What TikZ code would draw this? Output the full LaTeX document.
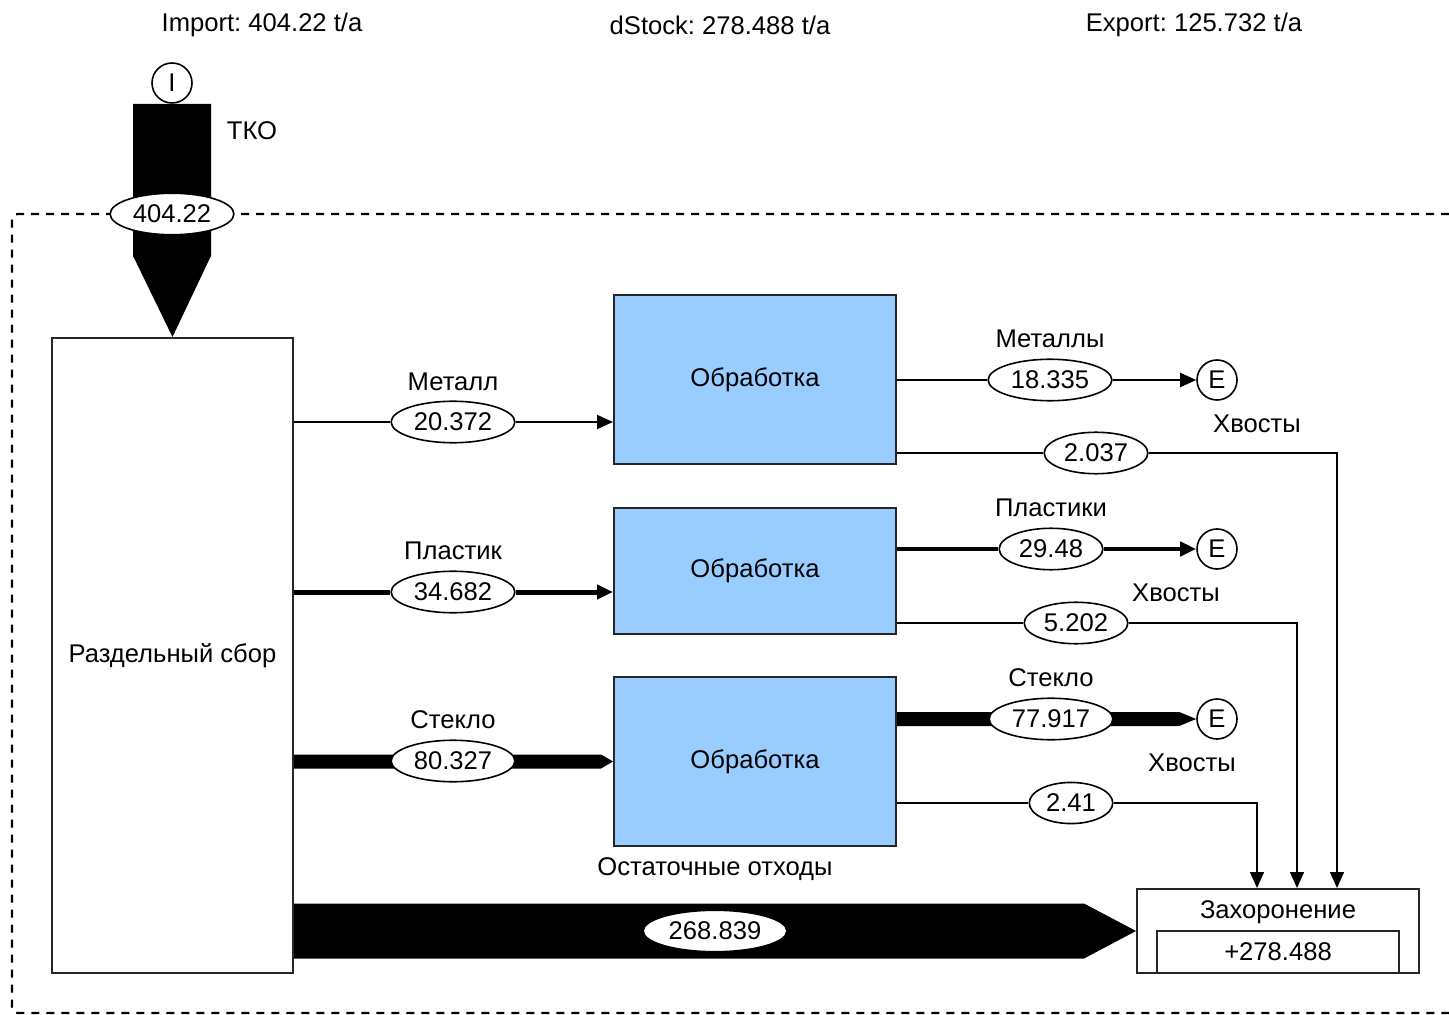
\documentclass[tikz,border=0pt]{standalone}
\usepackage{fontspec}
\setmainfont{Liberation Sans}
\usepackage{tikz}
\usetikzlibrary{positioning}
\usetikzlibrary{calc,arrows.meta,shapes.geometric}
\definecolor{procblue}{HTML}{99CCFF}
\frenchspacing

\tikzset{
  txt/.style={font=\fontsize{12.8}{15}\selectfont, inner sep=0pt},
  procbox/.style={draw=black!85, line width=1pt, fill=procblue, minimum width=141pt, inner sep=0pt, font=\fontsize{12.8}{15}\selectfont},
  plainbox/.style={draw=black!85, line width=1pt, fill=white, inner sep=0pt, font=\fontsize{12.8}{15}\selectfont},
  val/.style={ellipse, draw, fill=white, line width=0.8pt, inner xsep=2.3pt, inner ysep=2.8pt, font=\fontsize{12.8}{15}\selectfont},
  port/.style={circle, draw, fill=white, line width=0.8pt, minimum size=20pt, inner sep=0pt, font=\fontsize{12.8}{15}\selectfont},
  flowline/.style={line width=#1, -{Triangle[length=8pt,width=7pt]}},
  tail/.style={line width=0.8pt, -{Triangle[length=8pt,width=7pt]}},
  boundary/.style={dash pattern=on 4pt off 3.5pt, line width=1.1pt, rounded corners=3pt}
}

\begin{document}
\begin{tikzpicture}[x=0.5pt, y=-0.5pt]
  \useasboundingbox (0,0) rectangle (1449,1015);

  % system boundary
  \draw[boundary] (1449,214) -- (12,214) -- (12,1013) -- (1449,1013);

  % headline
  \node[txt] (imp) at (262,25) {Import: 404.22 t/a};
  \node[txt] (dst) at (720,25) {dStock: 278.488 t/a};
  \node[txt] (exp) at (1194,25) {Export: 125.732 t/a};

  % processes
  \node[port] (I) at (172,83) {I};
  \node[plainbox, minimum width=120.5pt, minimum height=317.5pt] (S) at (172.5,655.5) {Раздельный сбор};
  \node[procbox, minimum height=84.5pt] (B1) at (755,379.5) {Обработка};
  \node[procbox, minimum height=63pt] (B2) at (755,571) {Обработка};
  \node[procbox, minimum height=84.5pt] (B3) at (755,761.5) {Обработка};
  \node[plainbox, minimum width=141pt, minimum height=42pt] (L) at (1278,931) {};
  \node[txt] (Ltxt) at (1278,912) {Захоронение};
  \node[plainbox, minimum width=121pt, minimum height=21pt] (Lst) at (1278,952) {+278.488};

  \foreach \i/\y in {1/380, 2/549, 3/719} {
    \node[port] (E\i) at (1217,\y) {E};
  }

  % wide flows
  \fill ($(I.south)+(-39,0)$) -- ($(I.south)+(39,0)$) -- ($(I.south)+(39,152)$)
        -- (S.north) -- ($(I.south)+(-39,152)$) -- cycle;
  \fill ($(S.east|-B3.west)+(0,-7)$) -- ($(B3.west)+(-12,-7)$) -- (B3.west)
        -- ($(B3.west)+(-12,7)$) -- ($(S.east|-B3.west)+(0,7)$) -- cycle;
  \fill ($(B3.east|-E3)+(0,-7)$) -- ($(E3.west)+(-17,-7)$) -- (E3.west)
        -- ($(E3.west)+(-17,7)$) -- ($(B3.east|-E3)+(0,7)$) -- cycle;
  \fill ($(S.east|-L.west)+(0,-27.5)$) -- ($(L.west)+(-52,-27.5)$) -- (L.west)
        -- ($(L.west)+(-52,27.5)$) -- ($(S.east|-L.west)+(0,27.5)$) -- cycle;

  % values
  \node[val] (V0) at (172,214) {404.22};
  \node[val] (V1) at (453,422) {20.372};
  \node[val] (V2) at (453,592) {34.682};
  \node[val] (V3) at (453,761) {80.327};
  \node[val] (W1) at (1050,380) {18.335};
  \node[val] (W2) at (1051,549) {29.48};
  \node[val] (W3) at (1051,719) {77.917};
  \node[val] (T1) at (1096,453) {2.037};
  \node[val] (T2) at (1076,623) {5.202};
  \node[val] (T3) at (1071,803) {2.41};
  \node[val] (R) at (715,931) {268.839};

  % flow names
  \node[txt] (tko) at (252,131) {ТКО};
  \node[txt] at (453,382) {Металл};
  \node[txt] at (453,551) {Пластик};
  \node[txt] at (453,720) {Стекло};
  \node[txt] at (1050,339) {Металлы};
  \node[txt] at (1051,508) {Пластики};
  \node[txt] at (1051,678) {Стекло};
  \node[txt] at (1257,424) {Хвосты};
  \node[txt] at (1176,593) {Хвосты};
  \node[txt] at (1192,763) {Хвосты};
  \node[txt] at (715,869) {Остаточные отходы};

  % thin flows
  \draw[line width=1pt] (S.east|-V1) -- (V1);
  \draw[flowline=1pt] (V1) -- (B1.west|-V1);
  \draw[line width=2.5pt] (S.east|-V2) -- (V2);
  \draw[flowline=2.5pt] (V2) -- (B2.west|-V2);
  \draw[line width=1pt] (B1.east|-W1) -- (W1);
  \draw[flowline=1pt] (W1) -- (E1);
  \draw[line width=2pt] (B2.east|-W2) -- (W2);
  \draw[flowline=2pt] (W2) -- (E2);

  % tailings to landfill
  \draw[line width=0.8pt] (B1.east|-T1) -- (T1);
  \draw[tail] (T1.east) -| ($(L.north)+(59,0)$);
  \draw[line width=0.8pt] (B2.east|-T2) -- (T2);
  \draw[tail] (T2.east) -| ($(L.north)+(19,0)$);
  \draw[line width=0.8pt] (B3.east|-T3) -- (T3);
  \draw[tail] (T3.east) -| ($(L.north)+(-21,0)$);
\end{tikzpicture}
\end{document}
